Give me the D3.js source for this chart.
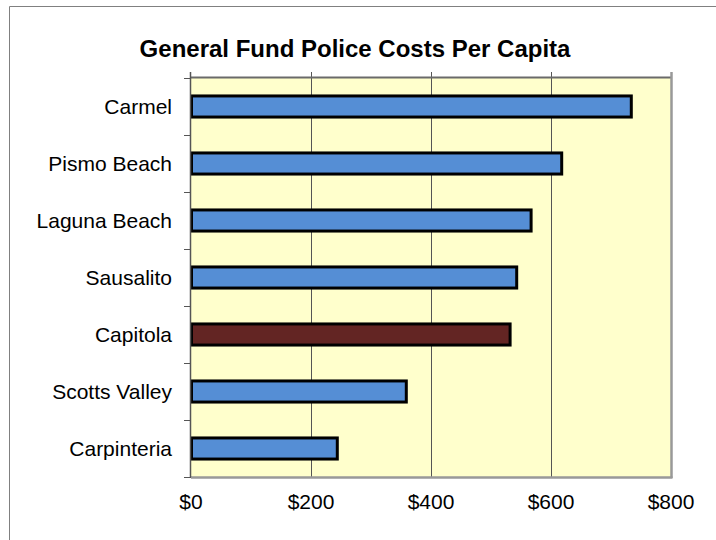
<!DOCTYPE html>
<html>
<head>
<meta charset="utf-8">
<script src="https://cdn.jsdelivr.net/npm/d3@7"></script>
<style>
  html, body { margin: 0; padding: 0; background: #fff; }
  svg { display: block; }
  text { font-family: "Liberation Sans", Arial, sans-serif; fill: #000; }
</style>
</head>
<body>
<svg id="chart" width="716" height="540"></svg>
<script>
// Police cost per resident, by city (US dollars)
const cities = ["Carmel", "Pismo Beach", "Laguna Beach", "Sausalito", "Capitola", "Scotts Valley", "Carpinteria"];
const costs = [733, 617, 566, 542, 531, 358, 243];
const highlighted = ["Capitola"];
const xTicks = [0, 200, 400, 600, 800];
const title = "General Fund Police Costs Per Capita";

const svg = d3.select("#chart");
const plot = { left: 191, top: 78, right: 671, bottom: 477 };

// outer frame (left and top edges visible)
svg.append("path")
  .attr("d", "M9.5,540 V6.5 H716")
  .attr("fill", "none")
  .attr("stroke", "#808080")
  .attr("stroke-width", 1);

svg.append("text")
  .attr("x", 355)
  .attr("y", 57)
  .attr("text-anchor", "middle")
  .attr("font-size", 24)
  .attr("font-weight", "bold")
  .text(title);

const x = d3.scaleLinear().domain([0, 800]).range([plot.left, plot.right]);
const y = d3.scaleBand().domain(cities).range([plot.top, plot.bottom]).padding(0);

// plot background
svg.append("rect")
  .attr("x", plot.left).attr("y", plot.top)
  .attr("width", plot.right - plot.left).attr("height", plot.bottom - plot.top)
  .attr("fill", "#FFFFCC");

// vertical gridlines with short ticks above the plot
svg.append("g")
  .selectAll("line")
  .data(xTicks.slice(1, -1))
  .join("line")
  .attr("x1", d => Math.round(x(d)) + 0.5).attr("x2", d => Math.round(x(d)) + 0.5)
  .attr("y1", plot.top - 6).attr("y2", plot.bottom)
  .attr("stroke", "#555")
  .attr("stroke-width", 1);

// plot frame: darker top, lighter right and bottom
svg.append("line")
  .attr("x1", plot.left).attr("x2", plot.right)
  .attr("y1", plot.top - 0.5).attr("y2", plot.top - 0.5)
  .attr("stroke", "#6a6a6a").attr("stroke-width", 2);
svg.append("line")
  .attr("x1", plot.right + 0.5).attr("x2", plot.right + 0.5)
  .attr("y1", plot.top - 6).attr("y2", plot.bottom + 1)
  .attr("stroke", "#999").attr("stroke-width", 2.5);
svg.append("line")
  .attr("x1", plot.left).attr("x2", plot.right + 1.5)
  .attr("y1", plot.bottom + 0.5).attr("y2", plot.bottom + 0.5)
  .attr("stroke", "#999").attr("stroke-width", 2.5);

// bars
const barH = y.bandwidth() * 0.37;
svg.append("g")
  .selectAll("rect")
  .data(cities.map((c, i) => ({ city: c, value: costs[i] })))
  .join("rect")
  .attr("x", x(0) + 0.5)
  .attr("y", d => y(d.city) + (y.bandwidth() - barH) / 2)
  .attr("width", d => x(d.value) - x(0))
  .attr("height", barH)
  .attr("fill", d => highlighted.includes(d.city) ? "#632523" : "#558ED5")
  .attr("stroke", "#000")
  .attr("stroke-width", 3);

// left axis line with category boundary ticks
svg.append("line")
  .attr("x1", plot.left - 0.5).attr("x2", plot.left - 0.5)
  .attr("y1", plot.top - 6).attr("y2", plot.bottom)
  .attr("stroke", "#555").attr("stroke-width", 1.5);
const boundaries = cities.map(c => y(c)).concat([plot.bottom]);
svg.append("g")
  .selectAll("line")
  .data(boundaries)
  .join("line")
  .attr("x1", plot.left - 7).attr("x2", plot.left)
  .attr("y1", d => Math.round(d) + 0.5).attr("y2", d => Math.round(d) + 0.5)
  .attr("stroke", "#555").attr("stroke-width", 1);

// category labels
svg.append("g")
  .selectAll("text")
  .data(cities)
  .join("text")
  .attr("x", 172)
  .attr("y", d => y(d) + y.bandwidth() / 2)
  .attr("dy", "0.35em")
  .attr("text-anchor", "end")
  .attr("font-size", 21)
  .text(d => d);

// value labels along the bottom
svg.append("g")
  .selectAll("text")
  .data(xTicks)
  .join("text")
  .attr("x", d => x(d))
  .attr("y", 509)
  .attr("text-anchor", "middle")
  .attr("font-size", 21)
  .text(d => "$" + d3.format(",")(d).replace(",", ""));
</script>
</body>
</html>
